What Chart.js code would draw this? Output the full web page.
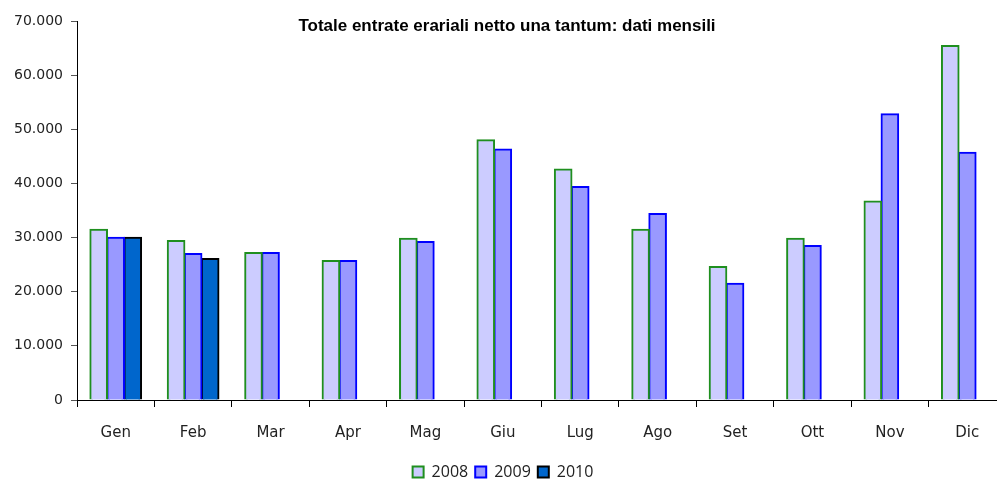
<!DOCTYPE html>
<html>
<head>
<meta charset="utf-8">
<script src="https://cdn.jsdelivr.net/npm/chart.js@4/dist/chart.umd.min.js"></script>
<style>
  body { margin: 0; overflow: hidden; background: #fff; }
  #wrap { position: absolute; left: 0; top: 0; width: 1006px; height: 490px; }
  #title {
    position: absolute; left: 0; width: 1014px; top: 16px; text-align: center;
    font: bold 17px "Liberation Sans", Arial, sans-serif; color: #000;
  }
</style>
</head>
<body>
<div id="wrap"><canvas id="c"></canvas></div>
<div id="title">Totale entrate erariali netto una tantum: dati mensili</div>
<script>
const months = ['Gen', 'Feb', 'Mar', 'Apr', 'Mag', 'Giu', 'Lug', 'Ago', 'Set', 'Ott', 'Nov', 'Dic'];
const y2008 = [31500, 29400, 27200, 25700, 29800, 48000, 42600, 31500, 24600, 29800, 36700, 65400];
const y2009 = [30000, 27000, 27200, 25700, 29200, 46300, 39400, 34400, 21500, 28500, 52800, 45700];
const y2010 = [30000, 26100, null, null, null, null, null, null, null, null, null, null];

// italian thousands separator
const fmt = v => String(v).replace(/\B(?=(\d{3})+(?!\d))/g, '.');

const ctx = document.getElementById('c').getContext('2d');
new Chart(ctx, {
    type: 'bar',
    data: {
        labels: months,
        datasets: [
            { label: '2008', data: y2008, backgroundColor: '#ccccff', borderColor: '#1f8f1f', borderWidth: 2 },
            { label: '2009', data: y2009, backgroundColor: '#9999ff', borderColor: '#0000ff', borderWidth: 2 },
            { label: '2010', data: y2010, backgroundColor: '#0066cc', borderColor: '#000000', borderWidth: 2 }
        ]
    },
    options: {
        responsive: true,
        maintainAspectRatio: false,
        animation: false,
        layout: { padding: { top: 21, right: 0, left: 0, bottom: 0 } },
        datasets: { bar: { categoryPercentage: 0.66, barPercentage: 1.0, inflateAmount: 0.8 } },
        scales: {
            x: {
                grid: { drawOnChartArea: false, color: '#000', tickLength: 7, offset: true },
                border: { color: '#000', width: 1 },
                ticks: { color: '#222', font: { family: 'DejaVu Sans', size: 15 }, padding: 17 },
                afterFit: s => { s.height = 57; }
            },
            y: {
                min: 0, max: 70000,
                grid: { drawOnChartArea: false, color: '#555', tickLength: 6 },
                border: { color: '#000', width: 1 },
                ticks: { stepSize: 10000, color: '#222', font: { family: 'DejaVu Sans', size: 14 }, padding: 8, callback: v => fmt(v) },
                afterFit: s => { s.width = 77; }
            }
        },
        plugins: {
            legend: {
                position: 'bottom',
                labels: {
                    boxWidth: 11, boxHeight: 11, padding: 7, color: '#222',
                    font: { family: 'Open Sans', size: 16 }
                }
            },
            tooltip: { enabled: false }
        }
    }
});
</script>
</body>
</html>
